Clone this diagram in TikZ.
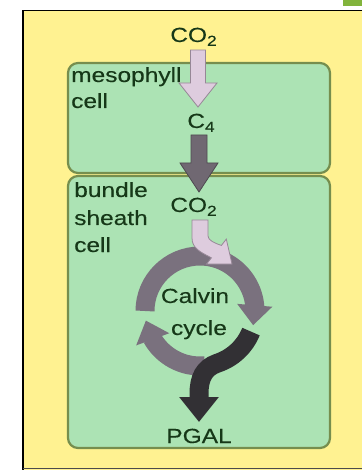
\documentclass[tikz,border=0pt]{standalone}
\usepackage{fontspec}
\setmainfont{Liberation Sans}[FakeStretch=1.2,FakeBold=0.3]
\usetikzlibrary{arrows.meta,bending}
\definecolor{bgyellow}{RGB}{255,242,145}
\definecolor{cellfill}{RGB}{172,227,180}
\definecolor{cellline}{RGB}{118,142,78}
\definecolor{txt}{RGB}{22,56,24}
\definecolor{lav}{RGB}{222,204,222}
\definecolor{lavline}{RGB}{150,135,150}
\definecolor{midgrey}{RGB}{112,104,114}
\definecolor{ringgrey}{RGB}{122,113,126}
\definecolor{darkarrow}{RGB}{50,48,52}
\definecolor{topgreen}{RGB}{130,180,60}
\newcommand\mysub[1]{\raisebox{-0.35ex}{\fontsize{14.5}{14.5}\selectfont #1}}
\begin{document}
\begin{tikzpicture}[x=1bp,y=1bp,yscale=-1,
  lbl/.style={text=txt, font=\fontsize{20.5}{20.5}\selectfont, inner sep=0pt},
  cellbox/.style={draw=cellline, fill=cellfill, line width=2.2bp, rounded corners=10bp},
  ring/.style={draw=ringgrey, line width=19bp},
  straightarrow/.style={line width=0.8bp, line join=miter}]
\useasboundingbox (0,0) rectangle (362,470);
\fill[white] (0,0) rectangle (362,470);
\fill[topgreen] (343,0) rectangle (362,6);
\fill[bgyellow] (23,10) rectangle (362,470);
\draw[black, line width=1.5bp] (362,10.5) -- (23,10.5) -- (23,470);
\draw[gray!60!black, line width=1bp] (23,468.5) -- (362,468.5);
\path[cellbox] (68,63) rectangle (330,173);
\path[cellbox] (68,176) rectangle (330,448);
% texts
\node[lbl, anchor=base] (co2top) at (193.5,42) {CO\mysub{2}};
\node[lbl, anchor=base west] (meso) at (71,82) {mesophyll};
\node[lbl, anchor=base west] (mcell) at (71,108) {cell};
\node[lbl, anchor=base] (c4) at (201,128) {C\mysub{4}};
\node[lbl, anchor=base west] (bundle) at (74,197) {bundle};
\node[lbl, anchor=base west] (sheath) at (74,225) {sheath};
\node[lbl, anchor=base west] (bcell) at (74,252) {cell};
\node[lbl, anchor=base] (co2b) at (193.5,212) {CO\mysub{2}};
\node[lbl, anchor=base] (calvin) at (195,303) {Calvin};
\node[lbl, anchor=base] (cycle) at (199,335) {cycle};
\node[lbl, anchor=base] (pgal) at (199,443) {PGAL};
% straight arrows
\filldraw[straightarrow, fill=lav, draw=lavline] (190.5,50) -- (205.5,50) -- (205.5,83) -- (217,83) -- (198,107) -- (179,83) -- (190.5,83) -- cycle;
\filldraw[straightarrow, fill=midgrey, draw=midgrey!70!black] (191,135) -- (207,135) -- (207,163) -- (218,163) -- (199,192) -- (180,163) -- (191,163) -- cycle;
% Calvin cycle ring
\coordinate (cc) at (200,311);
\draw[ring, -{Triangle[width=34bp,length=20bp,flex]}] (cc) ++(180:55) arc[start angle=180, end angle=375, radius=55];
\draw[ring, -{Triangle[width=34bp,length=20bp,flex]}] (cc) ++(85:55) arc[start angle=85, end angle=170, radius=55];
% bent light arrow
\filldraw[straightarrow, fill=lav, draw=lavline] (192,220) -- (208,220) -- (208,236) .. controls (208,240) and (214,243) .. (221.4,245.4) -- (226.3,239.1) -- (232,264) -- (206.5,264.1) -- (211.4,257.8) .. controls (200,252) and (192,248) .. (192,238) -- cycle;
% dark arrow to PGAL
\draw[darkarrow, line width=19bp, -{Triangle[width=38bp,length=25bp,flex]}] (cc) ++(22:55) arc[start angle=22, end angle=72, radius=55] .. controls (204,368) and (199,378) .. (199,394) -- (199,422);
\end{tikzpicture}
\end{document}
